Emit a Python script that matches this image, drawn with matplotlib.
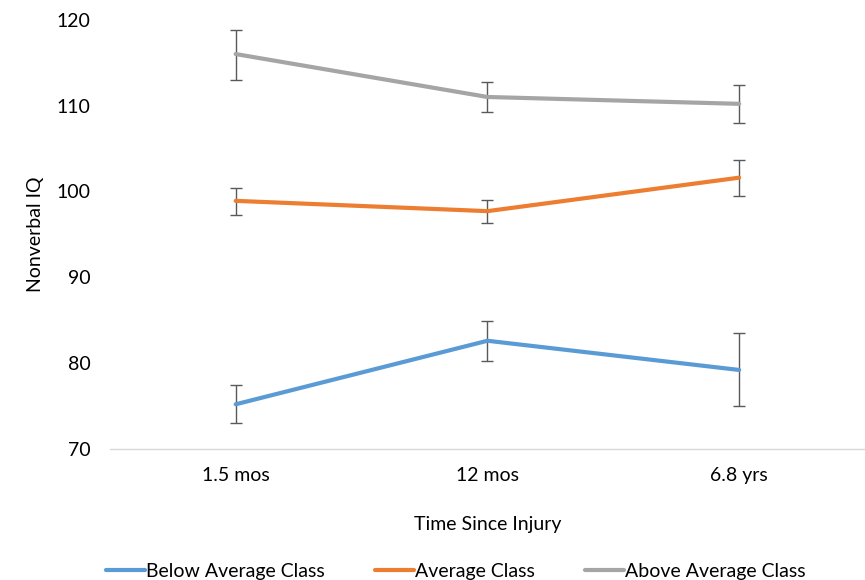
import matplotlib.pyplot as plt
import numpy as np

plt.rcParams['font.family'] = ['Lato', 'DejaVu Sans']

times = ["1.5 mos", "12 mos", "6.8 yrs"]
groups = ["Below Average Class", "Average Class", "Above Average Class"]
colors = ["#5B9BD5", "#ED7D31", "#A5A5A5"]

below_mean = [75.2, 82.6, 79.2]
below_lo = [73.0, 80.2, 75.0]
below_hi = [77.4, 84.9, 83.5]

avg_mean = [98.9, 97.7, 101.6]
avg_lo = [97.3, 96.3, 99.5]
avg_hi = [100.4, 99.0, 103.7]

above_mean = [116.0, 111.0, 110.2]
above_lo = [113.0, 109.3, 108.0]
above_hi = [118.8, 112.7, 112.4]

series = [
    (below_mean, below_lo, below_hi),
    (avg_mean, avg_lo, avg_hi),
    (above_mean, above_lo, above_hi),
]

fig = plt.figure(figsize=(8.65, 5.8), dpi=100)
ax = fig.add_axes([0.127, 0.226, 0.873, 0.74])

x = np.arange(len(times))
for name, color, (mean, lo, hi) in zip(groups, colors, series):
    mean = np.asarray(mean)
    yerr = np.vstack([mean - np.asarray(lo), np.asarray(hi) - mean])
    ax.errorbar(x, mean, yerr=yerr, fmt="none", ecolor="#595959",
                elinewidth=1.0, capsize=4, capthick=1.0, zorder=2)
    ax.plot(x, mean, color=color, linewidth=3.0, solid_capstyle="round",
            label=name, zorder=3)

ax.set_xlim(-0.5, len(times) - 0.5)
ax.set_ylim(70, 120)
ax.set_yticks(range(70, 121, 10))
ax.set_xticks(x)
ax.set_xticklabels(times)
ax.tick_params(axis="both", length=0, labelsize=14, colors="#000000")
ax.tick_params(axis="y", pad=14)
ax.tick_params(axis="x", pad=13)

for side in ["top", "right", "left"]:
    ax.spines[side].set_visible(False)
ax.spines["bottom"].set_color("#D9D9D9")
ax.spines["bottom"].set_linewidth(1.0)

ax.set_ylabel("Nonverbal IQ", fontsize=14, labelpad=9)
ax.set_xlabel("Time Since Injury", fontsize=14, labelpad=23)

fig.legend(loc="lower center", bbox_to_anchor=(0.527, -0.03), ncol=3,
           frameon=False, fontsize=14, handlelength=2.0, handletextpad=0.05,
           columnspacing=2.6)

fig.savefig("out.png", dpi=100)
